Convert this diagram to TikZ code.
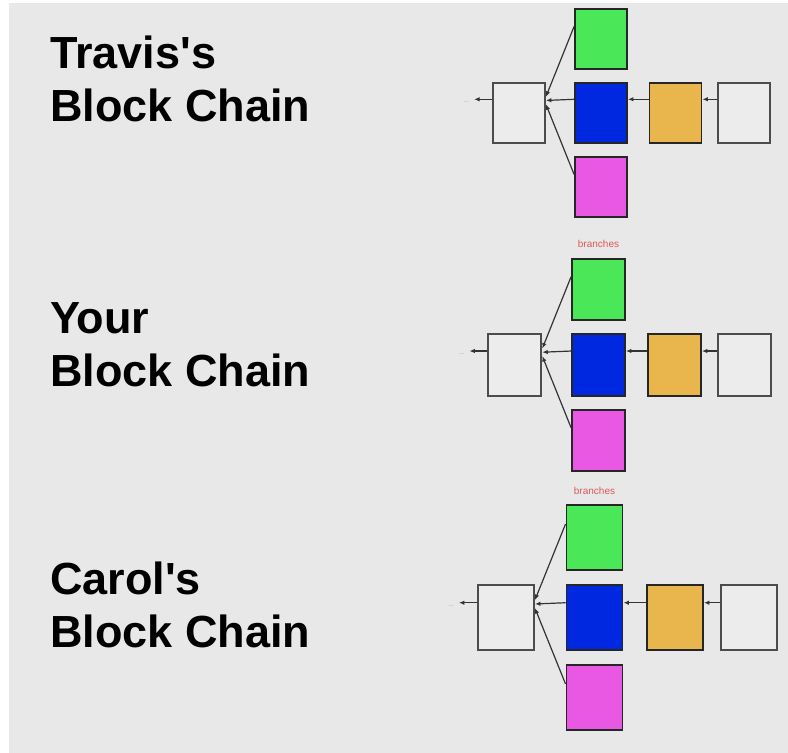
\documentclass[tikz,border=0pt]{standalone}
\usepackage{fontspec}
\setmainfont{Liberation Sans}
\usetikzlibrary{arrows.meta,positioning}
\definecolor{bggray}{HTML}{E8E8E8}
\definecolor{emptyfill}{HTML}{ECECEC}
\definecolor{blockgreen}{HTML}{4AE858}
\definecolor{blockblue}{HTML}{0028E0}
\definecolor{blockorange}{HTML}{E8B64C}
\definecolor{blockpink}{HTML}{E858E2}
\definecolor{branchred}{HTML}{E05858}

\begin{document}
\begin{tikzpicture}[x=1pt,y=-1pt,
  blk/.style={draw=black!85,line width=1.8pt,inner sep=0pt},
  link/.style={draw=black!80,line width=1.2pt,-{Latex[length=5.5pt,width=4.5pt]}},
  owner/.style={font=\bfseries\fontsize{45}{53}\selectfont,anchor=base west,inner sep=0pt},
  brlabel/.style={font=\fontsize{10}{12}\selectfont,text=branchred,inner sep=0pt}]
\useasboundingbox (0,0) rectangle (788,753);
\fill[bggray] (9,3) rectangle (788,753);

% three copies of the chain, each slightly larger
\foreach \n/\cx/\cy/\s/\ty/\who in {1/601/113/1/68/Travis\textquotesingle s, 2/598.5/365/1.02/333/Your, 3/594.5/617.5/1.08/594/Carol\textquotesingle s}{
  \node[owner] (who\n) at (50,\ty) {\who};
  \node[owner] (chain\n) at (50,\ty+53) {Block Chain};
  \begin{scope}[every node/.append style={minimum width=\s*52pt,minimum height=\s*60.5pt}]
  \node[blk,fill=blockblue] (blue\n) at (\cx,\cy) {};
  \node[blk,fill=blockgreen] (green\n) at (\cx,\cy-74*\s) {};
  \node[blk,fill=blockpink] (pink\n) at (\cx,\cy+74*\s) {};
  \node[blk,fill=blockorange] (orange\n) at (\cx+74.5*\s,\cy) {};
  \node[blk,draw=black!70,fill=emptyfill] (tip\n) at (\cx+143*\s,\cy) {};
  \node[blk,draw=black!70,fill=emptyfill] (base\n) at (\cx-82*\s,\cy) {};
  \end{scope}
  \coordinate (end\n) at ([xshift=-18pt]base\n.153);
  \node[font=\fontsize{6}{7}\selectfont,text=black!40,anchor=east,inner sep=1pt] (dots\n) at ([xshift=-4pt,yshift=-3pt]end\n) {...};
  \draw[link] (tip\n.153) -- (orange\n.27);
  \draw[link] (orange\n.153) -- (blue\n.27);
  \draw[link] (blue\n.153) -- (base\n.25);
  \draw[link] (green\n.155) -- (base\n.31);
  \draw[link] (pink\n.155) -- (base\n.18);
  \draw[link] (base\n.153) -- (end\n);
}
\node[brlabel,above=10pt of green2] (br2) {branches};
\node[brlabel,above=9pt of green3] (br3) {branches};
\end{tikzpicture}
\end{document}
